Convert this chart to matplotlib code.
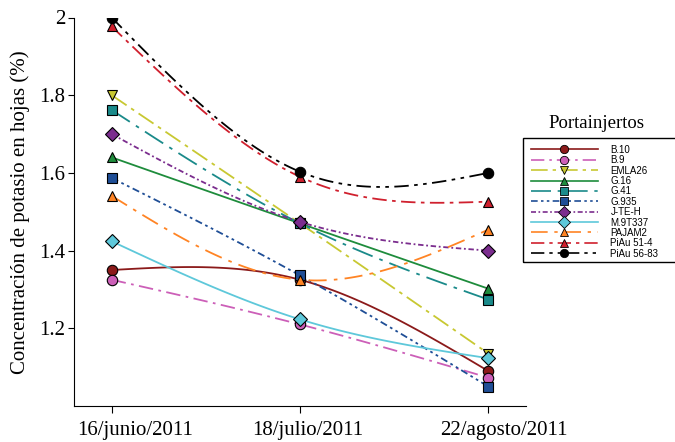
import numpy as np
import matplotlib
matplotlib.use("Agg")
import matplotlib.pyplot as plt
import matplotlib.transforms as mtransforms
from matplotlib.lines import Line2D
from matplotlib.patches import Rectangle

fechas = ["16/junio/2011", "18/julio/2011", "22/agosto/2011"]

portainjertos = ["B.10", "B.9", "EMLA26", "G.16", "G.41", "G.935",
                 "J-TE-H", "M.9T337", "PAJAM2", "PiAu 51-4", "PiAu 56-83"]

b10 = [1.35, 1.325, 1.09]
b9 = [1.325, 1.21, 1.073]
emla26 = [1.80, 1.47, 1.135]
g16 = [1.64, 1.47, 1.302]
g41 = [1.762, 1.47, 1.274]
g935 = [1.587, 1.336, 1.05]
jteh = [1.70, 1.474, 1.40]
m9t337 = [1.424, 1.223, 1.123]
pajam2 = [1.541, 1.325, 1.454]
piau514 = [1.977, 1.59, 1.526]
piau5683 = [2.0, 1.603, 1.60]

valores = [b10, b9, emla26, g16, g41, g935, jteh, m9t337, pajam2, piau514, piau5683]

colores = ["#8b1a1a", "#cc5fb8", "#c8c832", "#1e8c3c", "#1a8a8a", "#1f4e96",
           "#7b2d8e", "#5ec8da", "#ff8424", "#d0202e", "#000000"]
marcadores = ["o", "o", "v", "^", "s", "s", "D", "D", "^", "^", "o"]
estilos = ["-", (0, (8, 3, 1.5, 3)), (0, (10, 3, 2, 3)), "-",
           (0, (12, 4, 2, 4)), (0, (4, 2, 1.5, 2, 1.5, 2)),
           (0, (3, 1.5, 1, 1.5)), "-", (0, (10, 4, 2, 4)),
           (0, (8, 3, 2, 3)), (0, (8, 3, 2, 3, 2, 3))]


def spline_natural(y, n=100):
    # spline cubico natural por tres puntos equiespaciados (x = 0, 1, 2)
    y0, y1, y2 = y
    m1 = 6 * (y0 - 2 * y1 + y2) / 4.0
    xs = np.linspace(0, 2, n)
    ys = np.empty_like(xs)
    a = xs <= 1
    t = xs[a]
    ys[a] = m1 * t ** 3 / 6 + y0 * (1 - t) + (y1 - m1 / 6) * t
    t = xs[~a]
    ys[~a] = m1 * (2 - t) ** 3 / 6 + (y1 - m1 / 6) * (2 - t) + y2 * (t - 1)
    return xs, ys


plt.rcParams["font.family"] = "Liberation Serif"

fig = plt.figure(figsize=(6.75, 4.42), dpi=100)
ax = fig.add_axes([74 / 675, 36 / 442, 452 / 675, 388.5 / 442])

x = np.arange(len(fechas))
for nombre, vals, c, m, ls in zip(portainjertos, valores, colores, marcadores, estilos):
    xs, ys = spline_natural(vals)
    ax.plot(xs, ys, color=c, linestyle=ls, linewidth=1.3)
    ax.plot(x, vals, linestyle="none", marker=m, markersize=7.5,
            markerfacecolor=c, markeredgecolor="black", markeredgewidth=0.8)

ax.set_xlim(-0.2, 2.2)
ax.set_ylim(1.0, 2.0)
ax.set_xticks(x)
ax.set_xticklabels(fechas, fontsize=15)
ax.set_yticks([1.2, 1.4, 1.6, 1.8, 2.0])
ax.set_yticklabels(["1.2", "1.4", "1.6", "1.8", "2"], fontsize=15)
ax.tick_params(axis="x", direction="out", length=5, width=0.8, pad=6)
ax.tick_params(axis="y", direction="out", length=4, width=0.8, pad=2)
ax.spines["top"].set_visible(False)
ax.spines["right"].set_visible(False)
ax.set_ylabel("Concentración de potasio en hojas (%)", fontsize=15, labelpad=7)

# las etiquetas de fecha quedan algo a la derecha de su marca
for lab, dx in zip(ax.get_xticklabels(), [23, 8, 16]):
    lab.set_transform(lab.get_transform() +
                      mtransforms.ScaledTranslation(dx / 100, 0, fig.dpi_scale_trans))

handles = [Line2D([0], [0], color=c, linestyle=ls, linewidth=1.2, marker=m,
                  markersize=6, markerfacecolor=c, markeredgecolor="black",
                  markeredgewidth=0.6)
           for c, m, ls in zip(colores, marcadores, estilos)]
leg = fig.legend(handles, portainjertos, loc="upper left",
                 bbox_to_anchor=(523 / 675, 1 - 137 / 442),
                 prop={"family": "Liberation Sans", "size": 7},
                 handlelength=6.9, labelspacing=0.04, handletextpad=1.3,
                 borderpad=0.3, frameon=False)
fig.patches.append(Rectangle((523 / 675, 1 - 262 / 442), 170 / 675, 124 / 442,
                             transform=fig.transFigure, fill=False,
                             edgecolor="black", linewidth=1.0))
fig.text(596 / 675, 1 - 124 / 442, "Portainjertos", ha="center", va="center",
         fontsize=13.5)

fig.savefig("out.png", dpi=100)
